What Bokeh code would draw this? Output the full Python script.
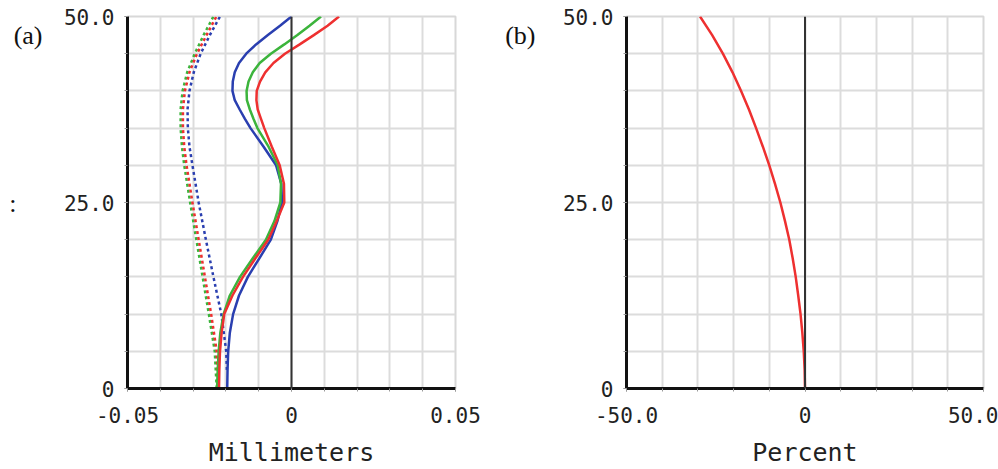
from bokeh.plotting import figure
from bokeh.models import FixedTicker, CustomJSTickFormatter, Span, Range1d, LinearAxis
from bokeh.layouts import row
from bokeh.embed import file_html
from bokeh.resources import INLINE

# ---------------- data ----------------
# (a) field curvature, field (y) vs focus shift in mm
y_field = [0, 2.5, 5, 7.5, 10, 12.5, 15, 17.5, 20, 22.5, 25, 27.5, 30, 32.5,
           35, 36.25, 37.5, 38.75, 40, 41.25, 42.5, 43.75, 45, 46.25, 47.5, 48.75, 50]
blue_solid = [-0.0196, -0.0195, -0.0193, -0.0188, -0.0178, -0.0160, -0.0133,
              -0.0098, -0.0063, -0.0043, -0.0029, -0.0031, -0.0047, -0.0085,
              -0.0125, -0.0142, -0.0158, -0.0173, -0.0180, -0.0179, -0.0173,
              -0.0160, -0.0138, -0.0108, -0.0072, -0.0035, 0.0]
green_solid = [-0.0227, -0.0225, -0.0222, -0.0217, -0.0207, -0.0188, -0.0157,
               -0.0118, -0.0078, -0.0052, -0.0034, -0.0032, -0.0042, -0.0070,
               -0.0104, -0.0116, -0.0127, -0.0136, -0.0137, -0.0131, -0.0118,
               -0.0097, -0.0063, -0.0022, 0.0018, 0.0055, 0.0090]
red_solid = [-0.0221, -0.0220, -0.0218, -0.0213, -0.0205, -0.0180, -0.0148,
             -0.0110, -0.0071, -0.0045, -0.0022, -0.0023, -0.0036, -0.0060,
             -0.0083, -0.0093, -0.0103, -0.0107, -0.0106, -0.0096, -0.0080,
             -0.0055, -0.0020, 0.0025, 0.0068, 0.0110, 0.0145]

y_dot = [0, 5, 10, 15, 20, 25, 30, 32.5, 35, 37.5, 40, 42.5, 45, 47.5, 50]
green_dot = [-0.0228, -0.0234, -0.0252, -0.0271, -0.0290, -0.0309, -0.0327, -0.0334,
             -0.0338, -0.0338, -0.0332, -0.0318, -0.0295, -0.0268, -0.0238]
red_dot = [-0.0223, -0.0228, -0.0245, -0.0264, -0.0283, -0.0302, -0.0320, -0.0327,
           -0.0331, -0.0331, -0.0325, -0.0311, -0.0288, -0.0259, -0.0229]
y_dot_blue = [2.5, 5, 10, 15, 20, 25, 30, 32.5, 35, 37.5, 40, 42.5, 45, 47.5, 50]
blue_dot = [-0.0197, -0.0199, -0.0214, -0.0238, -0.0261, -0.0283, -0.0302, -0.0311,
            -0.0316, -0.0317, -0.0311, -0.0298, -0.0277, -0.0249, -0.0218]

# (b) distortion, field (y) vs percent
y_dist = [0, 2.5, 5, 7.5, 10, 12.5, 15, 17.5, 20, 22.5, 25, 27.5, 30, 32.5,
          35, 37.5, 40, 42.5, 45, 47.5, 50]
dist = [0.0, -0.1, -0.35, -0.75, -1.25, -1.9, -2.6, -3.45, -4.4, -5.6, -6.9,
        -8.4, -10.0, -11.8, -13.7, -15.7, -17.9, -20.3, -23.0, -26.0, -29.4]

# axis ticks
fa_major = [-0.05, 0.0, 0.05]
fa_grid = [-0.05, -0.04, -0.03, -0.02, -0.01, 0.0, 0.01, 0.02, 0.03, 0.04, 0.05]
fb_major = [-50, 0, 50]
fb_grid = [-50, -40, -30, -20, -10, 0, 10, 20, 30, 40, 50]
y_major = [0, 25, 50]
y_grid = [0, 5, 10, 15, 20, 25, 30, 35, 40, 45, 50]

# panel tags (placed as tick labels of an outer, line-less axis)
tag_a_pos = [47.5, 24.9]
tag_b_pos = [47.5]

BLUE = "#2a3fb0"
GREEN = "#3cb43c"
RED = "#ee3030"
MONO = "DejaVu Sans Mono"


def make_fig(width, xr, xmajor, xgrid, xcode, left, right, bottom, xlabel):
    p = figure(width=width, height=469, x_range=Range1d(*xr), y_range=Range1d(0, 50),
               output_backend="svg", toolbar_location=None,
               min_border_left=left, min_border_right=right,
               min_border_top=16, min_border_bottom=bottom)
    p.background_fill_color = "white"
    p.border_fill_color = "white"
    p.outline_line_color = "#d8d8d8"
    p.outline_line_width = 2

    p.xaxis.ticker = FixedTicker(ticks=xmajor, minor_ticks=xgrid)
    p.yaxis.ticker = FixedTicker(ticks=y_major, minor_ticks=y_grid)
    p.xgrid.ticker = FixedTicker(ticks=xgrid)
    p.ygrid.ticker = FixedTicker(ticks=y_grid)
    p.grid.grid_line_color = "#dcdcdc"
    p.grid.grid_line_width = 2

    p.xaxis.formatter = CustomJSTickFormatter(code=xcode)
    p.yaxis.formatter = CustomJSTickFormatter(
        code="return Math.abs(tick) < 1e-9 ? '0' : tick.toFixed(1);")

    p.axis.axis_line_color = "#111111"
    p.axis.axis_line_width = 3
    p.axis.major_tick_line_color = "#999999"
    p.axis.minor_tick_line_color = "#999999"
    p.axis.major_tick_in = 0
    p.axis.minor_tick_in = 0
    p.axis.major_tick_out = 3
    p.axis.minor_tick_out = 3
    p.axis.major_label_text_font = MONO
    p.axis.major_label_text_font_size = "21px"
    p.axis.major_label_text_color = "#222222"
    p.yaxis.major_label_standoff = 10
    p.xaxis.major_label_standoff = 15

    p.xaxis.axis_label = xlabel
    p.xaxis.axis_label_text_font = MONO
    p.xaxis.axis_label_text_font_size = "25px"
    p.xaxis.axis_label_text_font_style = "normal"
    p.xaxis.axis_label_text_color = "#222222"
    p.xaxis.axis_label_standoff = 12

    p.add_layout(Span(location=0, dimension="height", line_color="#333333", line_width=2))
    return p


def add_tag_axis(p, ticks, code, standoff):
    ax = LinearAxis(ticker=FixedTicker(ticks=ticks),
                    formatter=CustomJSTickFormatter(code=code))
    ax.axis_line_color = None
    ax.major_tick_line_color = None
    ax.minor_tick_line_color = None
    ax.major_tick_out = 0
    ax.minor_tick_out = 0
    ax.major_label_standoff = standoff
    ax.major_label_text_font = "Liberation Serif"
    ax.major_label_text_font_size = "26px"
    ax.major_label_text_color = "#111111"
    p.add_layout(ax, "left")
    return ax


pa = make_fig(500, (-0.05, 0.05), fa_major, fa_grid,
              "return Math.abs(tick) < 1e-12 ? '0' : tick.toFixed(2);",
              127, 45, 78, "Millimeters")

for xs, ys, c in [(green_dot, y_dot, GREEN), (red_dot, y_dot, RED), (blue_dot, y_dot_blue, BLUE)]:
    pa.line(xs, ys, line_color=c, line_width=2.5, line_dash="3 3")
for xs, c in [(blue_solid, BLUE), (green_solid, GREEN), (red_solid, RED)]:
    pa.line(xs, y_field, line_color=c, line_width=2.5)

add_tag_axis(pa, tag_a_pos,
             "return tick > 40 ? '(a)' : '\\u003A" + "\\u00a0" * 4 + "';", 18)

pb = make_fig(498, (-50, 50), fb_major, fb_grid,
              "return Math.abs(tick) < 1e-9 ? '0' : tick.toFixed(1);",
              126, 15, 77, "Percent")
pb.line(dist, y_dist, line_color=RED, line_width=2.5)
add_tag_axis(pb, tag_b_pos, "return '(b)';", 24)

layout = row(pa, pb)
open("out.html", "w").write(file_html(layout, INLINE))
